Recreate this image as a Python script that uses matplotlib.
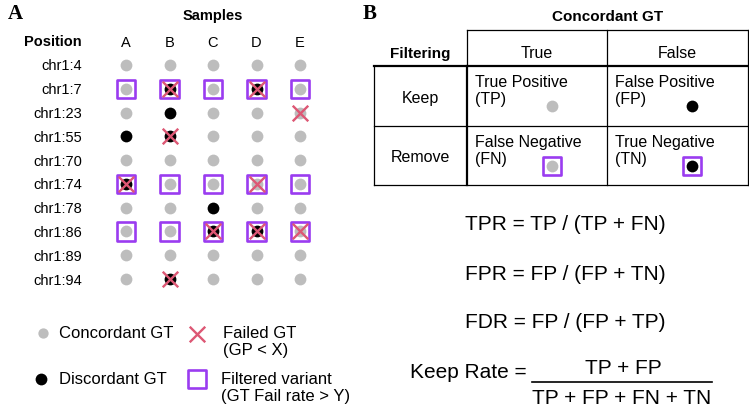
import matplotlib
matplotlib.use("Agg")
import matplotlib.pyplot as plt

plt.rcParams["font.family"] = ["Liberation Sans", "DejaVu Sans"]

# panel A data
positions = ["chr1:4", "chr1:7", "chr1:23", "chr1:55", "chr1:70",
             "chr1:74", "chr1:78", "chr1:86", "chr1:89", "chr1:94"]
samples = ["A", "B", "C", "D", "E"]
# 1 = discordant genotype (black dot)
discordant = [
    [0, 0, 0, 0, 0],
    [0, 1, 0, 1, 0],
    [0, 1, 0, 0, 0],
    [1, 1, 0, 0, 0],
    [0, 0, 0, 0, 0],
    [1, 0, 0, 0, 0],
    [0, 0, 1, 0, 0],
    [0, 0, 1, 1, 0],
    [0, 0, 0, 0, 0],
    [0, 1, 0, 0, 0],
]
# 1 = failed genotype (red cross)
failed = [
    [0, 0, 0, 0, 0],
    [0, 1, 0, 1, 0],
    [0, 0, 0, 0, 1],
    [0, 1, 0, 0, 0],
    [0, 0, 0, 0, 0],
    [1, 0, 0, 1, 0],
    [0, 0, 0, 0, 0],
    [0, 0, 1, 1, 1],
    [0, 0, 0, 0, 0],
    [0, 1, 0, 0, 0],
]
filtered_rows = ["chr1:7", "chr1:74", "chr1:86"]

# panel B data
col_labels = ["True", "False"]
row_labels = ["Keep", "Remove"]
cell_names = [["True Positive\n(TP)", "False Positive\n(FP)"],
              ["False Negative\n(FN)", "True Negative\n(TN)"]]
cell_concordant = [[True, False], [True, False]]
cell_filtered = [[False, False], [True, True]]
formulas = ["TPR = TP / (TP + FN)", "FPR = FP / (FP + TN)", "FDR = FP / (FP + TP)"]
keep_num = "TP + FP"
keep_den = "TP + FP + FN + TN"

GRAY = "#bdbdbd"
BLACK = "#000000"
RED = "#dd5774"
PURPLE = "#9a3cf0"

W, H = 749, 409
fig = plt.figure(figsize=(W / 100, H / 100), dpi=100)

# overlay in pixel coordinates for annotations / table
ov = fig.add_axes([0, 0, 1, 1])
ov.set_xlim(0, W)
ov.set_ylim(H, 0)
ov.axis("off")

# ---- panel A grid ----
ax = fig.add_axes([104.25 / W, (H - 290.9) / H, 217.5 / W, 237.8 / H])
ax.patch.set_visible(False)
ax.set_xlim(-0.5, len(samples) - 0.5)
ax.set_ylim(len(positions) - 0.5, -0.5)
for sp in ax.spines.values():
    sp.set_visible(False)
ax.xaxis.tick_top()
ax.set_xticks(range(len(samples)))
ax.set_xticklabels(samples, fontsize=10.5)
ax.set_yticks(range(len(positions)))
ax.set_yticklabels(positions, fontsize=10.5)
ax.tick_params(length=0)
ax.tick_params(axis="y", pad=16)
ax.tick_params(axis="x", pad=2)

for i, pos in enumerate(positions):
    for j in range(len(samples)):
        c = BLACK if discordant[i][j] else GRAY
        ax.scatter(j, i, s=72, color=c, zorder=2, linewidths=0)
        if pos in filtered_rows:
            ax.scatter(j, i, s=175, marker="s", facecolor="none",
                       edgecolor=PURPLE, linewidths=1.9, zorder=3)
        if failed[i][j]:
            ax.scatter(j, i, s=125, marker="x", color=RED, linewidths=1.7, zorder=4)

ov.text(213, 16, "Samples", fontsize=10.5, fontweight="bold", ha="center", va="center")
ov.text(82, 42, "Position", fontsize=10.5, fontweight="bold", ha="right", va="center")
ov.text(8, 14, "A", fontsize=15, fontweight="bold", family="Liberation Serif", va="center")

# legend
ov.scatter(43, 333, s=55, color=GRAY, linewidths=0)
ov.text(59, 334, "Concordant GT", fontsize=12, va="center")
ov.scatter(41, 379, s=72, color=BLACK, linewidths=0)
ov.text(59, 380, "Discordant GT", fontsize=12, va="center")
ov.scatter(197, 334, s=125, marker="x", color=RED, linewidths=1.7)
ov.text(223, 342, "Failed GT\n(GP < X)", fontsize=12, va="center", linespacing=1.15)
ov.scatter(197, 379, s=185, marker="s", facecolor="none", edgecolor=PURPLE, linewidths=1.9)
ov.text(221, 388, "Filtered variant\n(GT Fail rate > Y)", fontsize=12, va="center",
        linespacing=1.15)

# ---- panel B table ----
ov.text(363, 14, "B", fontsize=15, fontweight="bold", family="Liberation Serif", va="center")
xs = [374, 467, 607, 748]
ys = [30, 66, 126, 185]
ov.text((xs[1] + xs[3]) / 2, 17, "Concordant GT", fontsize=11, fontweight="bold",
        ha="center", va="center")
ov.text((xs[0] + xs[1]) / 2, 54, "Filtering", fontsize=11, fontweight="bold",
        ha="center", va="center")
thin, thick = 0.9, 1.6
ov.plot([xs[1], xs[3]], [ys[0], ys[0]], color="k", lw=thin)
ov.plot([xs[0], xs[3]], [ys[1], ys[1]], color="k", lw=thick)
ov.plot([xs[0], xs[3]], [ys[2], ys[2]], color="k", lw=thin)
ov.plot([xs[0], xs[3]], [ys[3], ys[3]], color="k", lw=thin)
ov.plot([xs[0], xs[0]], [ys[1], ys[3]], color="k", lw=thin)
ov.plot([xs[1], xs[1]], [ys[0], ys[1]], color="k", lw=thin)
ov.plot([xs[1], xs[1]], [ys[1], ys[3]], color="k", lw=thick)
ov.plot([xs[2], xs[2]], [ys[0], ys[3]], color="k", lw=thin)
ov.plot([xs[3], xs[3]], [ys[0], ys[3]], color="k", lw=thin)

for j, lab in enumerate(col_labels):
    ov.text((xs[j + 1] + xs[j + 2]) / 2, 54, lab, fontsize=11.5, ha="center", va="center")
for i, lab in enumerate(row_labels):
    ov.text((xs[0] + xs[1]) / 2, (ys[i + 1] + ys[i + 2]) / 2 + 2, lab, fontsize=11.5,
            ha="center", va="center")
    for j in range(2):
        left, top = xs[j + 1], ys[i + 1]
        ov.text(left + 8, top + 25, cell_names[i][j], fontsize=11.5, va="center",
                linespacing=1.15)
        cx, cy = left + 85, top + 40
        ov.scatter(cx, cy, s=72, color=GRAY if cell_concordant[i][j] else BLACK,
                   linewidths=0, zorder=3)
        if cell_filtered[i][j]:
            ov.scatter(cx, cy, s=175, marker="s", facecolor="none", edgecolor=PURPLE,
                       linewidths=1.9, zorder=4)

# formulas
for k, f in enumerate(formulas):
    ov.text(565, 225 + k * 49, f, fontsize=15, ha="center", va="center")
ov.text(410, 373, "Keep Rate =", fontsize=15, ha="left", va="center")
ov.plot([532, 712], [382, 382], color="k", lw=1.2)
ov.text(623, 369, keep_num, fontsize=15, ha="center", va="center")
ov.text(622, 398, keep_den, fontsize=15, ha="center", va="center")

fig.savefig("out.png", dpi=100)
